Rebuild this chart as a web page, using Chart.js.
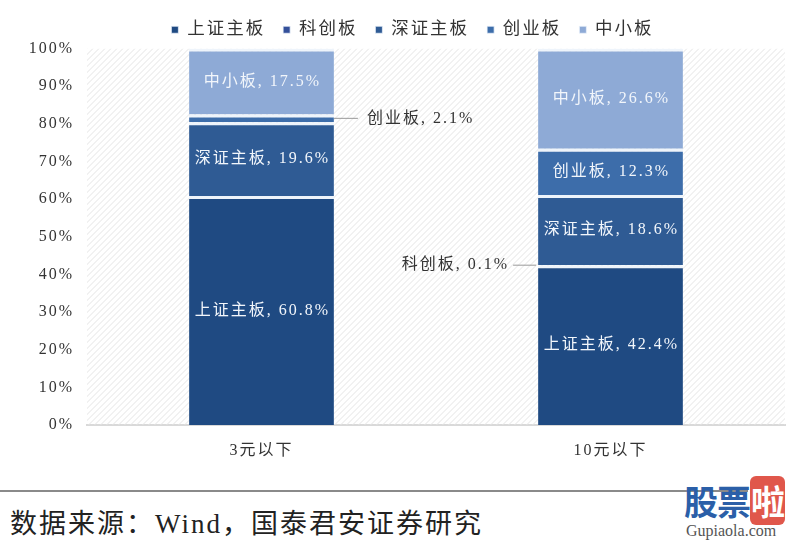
<!DOCTYPE html>
<html lang="zh">
<head>
<meta charset="UTF-8">
<title>股价分布</title>
<script src="https://cdn.jsdelivr.net/npm/chart.js"></script>
<style>
  body { margin: 0; background: #fff; width: 800px; height: 543px; position: relative; overflow: hidden; }
  #wrap { position: absolute; left: 0; top: 0; width: 800px; height: 470px; }
  .rule { position: absolute; left: 0; top: 490px; width: 748px; height: 2px; background: #8a8a8a; }
  .source { position: absolute; left: 10px; top: 502px; font: 27px "Liberation Serif", "Noto Sans CJK SC", serif; color: #222; letter-spacing: 2px; }
  .mark { position: absolute; left: 684px; top: 482px; font: bold 34px "Noto Sans CJK SC", sans-serif; color: #2b5fa8; letter-spacing: -1px; line-height: 38px; }
  .mark span { background: #e0574b; color: #fff; border-radius: 6px; padding: 0 1px; }
  .mark2 { position: absolute; left: 686px; top: 522px; font: 16px "Liberation Serif", serif; color: #555; }
</style>
</head>
<body>
<div id="wrap"><canvas id="myChart" width="800" height="470"></canvas></div>
<div class="rule"></div>
<div class="source">数据来源：Wind，国泰君安证券研究</div>
<div class="mark">股票<span>啦</span></div>
<div class="mark2">Gupiaola.com</div>

<script>
    const categories = ['3元以下', '10元以下'];
    const seriesNames = ['上证主板', '科创板', '深证主板', '创业板', '中小板'];
    const shMain = [60.8, 42.4];
    const star = [0, 0.1];
    const szMain = [19.6, 18.6];
    const chinext = [2.1, 12.3];
    const sme = [17.5, 26.6];
    const yTicks = [0, 10, 20, 30, 40, 50, 60, 70, 80, 90, 100];

    const colors = ['#1f4a82', '#34509a', '#2f5b94', '#3d6daa', '#8eaad6'];
    const serif = '"Liberation Serif", "Noto Sans CJK SC", serif';

    // the original's text is spaced out; canvas resize wipes ctx state so set it per update
    const spacing = {
        id: 'spacing',
        beforeUpdate(chart) { chart.ctx.letterSpacing = '2px'; },
        beforeDraw(chart) { chart.ctx.letterSpacing = '2px'; },
        // legend in the original sits a bit right of centre
        afterLayout(chart) {
            if (chart.legend) { chart.legend.left += 20; chart.legend.right += 20; }
        }
    };

    // diagonal hatch behind the bars
    const hatch = {
        id: 'hatch',
        beforeDatasetsDraw(chart) {
            const { ctx, chartArea: a } = chart;
            ctx.save();
            ctx.beginPath();
            ctx.rect(a.left, a.top, a.right - a.left, a.bottom - a.top);
            ctx.clip();
            ctx.strokeStyle = '#e4e4e4';
            ctx.lineWidth = 1;
            const h = a.bottom - a.top;
            for (let x = a.left - h; x < a.right; x += 6) {
                ctx.beginPath();
                ctx.moveTo(x, a.bottom);
                ctx.lineTo(x + h, a.top);
                ctx.stroke();
            }
            ctx.restore();
        }
    };

    // segment labels, small ones get a leader line
    const segLabels = {
        id: 'segLabels',
        afterDatasetsDraw(chart) {
            const ctx = chart.ctx;
            ctx.save();
            ctx.font = '16px ' + serif;
            ctx.letterSpacing = '2px';
            ctx.textBaseline = 'middle';
            chart.data.datasets.forEach((ds, di) => {
                chart.getDatasetMeta(di).data.forEach((el, i) => {
                    const v = ds.data[i];
                    if (!v) return;
                    const txt = ds.label + ', ' + v.toFixed(1) + '%';
                    const y = (el.y + el.base) / 2;
                    const half = el.width / 2;
                    if (v >= 5) {
                        ctx.fillStyle = '#f2f6fb';
                        ctx.textAlign = 'center';
                        ctx.fillText(txt, el.x + 1, y);
                    } else {
                        ctx.fillStyle = '#333';
                        ctx.strokeStyle = '#999';
                        ctx.lineWidth = 1;
                        ctx.beginPath();
                        if (i === 0) {
                            ctx.moveTo(el.x + half, y);
                            ctx.lineTo(el.x + half + 24, y);
                            ctx.stroke();
                            ctx.textAlign = 'left';
                            ctx.fillText(txt, el.x + half + 33, y);
                        } else {
                            ctx.moveTo(el.x - half - 2, y);
                            ctx.lineTo(el.x - half - 25, y);
                            ctx.stroke();
                            ctx.textAlign = 'right';
                            ctx.fillText(txt, el.x - half - 29, y);
                        }
                    }
                });
            });
            ctx.restore();
        }
    };

    const values = [shMain, star, szMain, chinext, sme];
    const ctx = document.getElementById('myChart').getContext('2d');
    const myChart = new Chart(ctx, {
        type: 'bar',
        data: {
            labels: categories,
            datasets: seriesNames.map((name, k) => ({
                label: name,
                data: values[k],
                backgroundColor: colors[k],
                borderColor: '#eef4fb',
                borderWidth: { top: 3, left: 0, right: 0, bottom: 0 },
                borderSkipped: false,
                categoryPercentage: 1,
                barPercentage: 0.415
            }))
        },
        options: {
            responsive: false,
            animation: false,
            layout: { padding: { left: 0, right: 15, top: 3, bottom: 0 } },
            plugins: {
                tooltip: { enabled: false },
                legend: {
                    position: 'top',
                    labels: {
                        boxWidth: 7,
                        boxHeight: 7,
                        padding: 18,
                        color: '#333',
                        font: { size: 17.5, family: serif }
                    }
                }
            },
            scales: {
                x: {
                    stacked: true,
                    grid: { display: false, drawTicks: false },
                    border: { display: true, color: '#d9d9d9', width: 2 },
                    ticks: { color: '#333', padding: 16, font: { size: 16, family: serif } },
                    afterFit(scale) { scale.height = 45; }
                },
                y: {
                    stacked: true,
                    min: 0,
                    max: 100,
                    grid: { display: false, drawTicks: false },
                    border: { display: false },
                    afterBuildTicks(scale) { scale.ticks = yTicks.map(v => ({ value: v })); },
                    ticks: {
                        color: '#333',
                        padding: 13,
                        font: { size: 16, family: serif },
                        callback: v => v + '%'
                    },
                    afterFit(scale) { scale.width = 87; }
                }
            }
        },
        plugins: [spacing, hatch, segLabels]
    });
</script>
</body>
</html>
